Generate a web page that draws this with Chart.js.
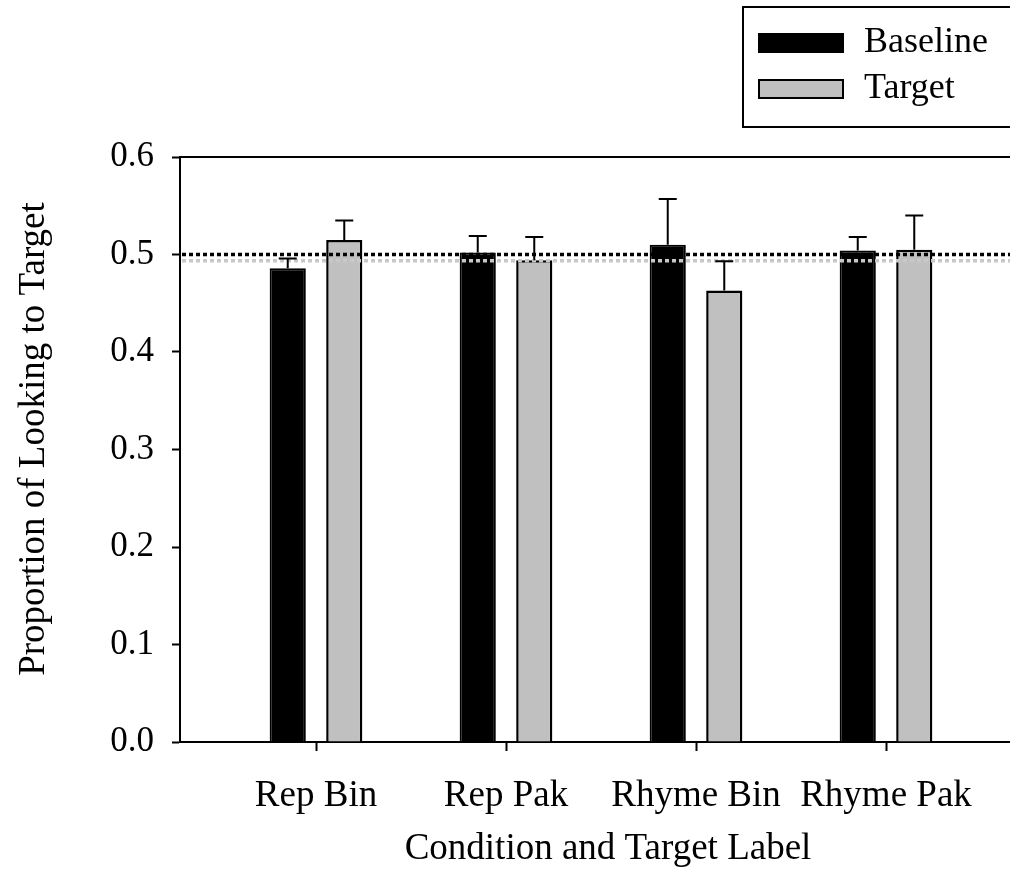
<!DOCTYPE html>
<html>
<head>
<meta charset="utf-8">
<script src="https://cdn.jsdelivr.net/npm/chart.js@4.4.0/dist/chart.umd.min.js"></script>
<style>
  html, body { margin: 0; padding: 0; overflow: hidden; background: #fff; }
  canvas { display: block; }
</style>
</head>
<body>
<canvas id="lookChart" width="1036" height="875"></canvas>
<script>
// datos
const categories = ['Rep Bin', 'Rep Pak', 'Rhyme Bin', 'Rhyme Pak'];
const baseline = [0.486, 0.502, 0.510, 0.504];
const baselineErr = [0.010, 0.017, 0.047, 0.014];
const target = [0.515, 0.494, 0.463, 0.505];
const targetErr = [0.020, 0.024, 0.030, 0.035];
const yTicks = [0, 0.1, 0.2, 0.3, 0.4, 0.5, 0.6];
const chanceLine = 0.5;
const chanceLineGray = 0.4935;

const serif = 'Liberation Serif';

// pasar arrays a puntos {x, y}
function toPoints(values) {
    return values.map((v, i) => ({ x: i, y: v }));
}

// barras de error (solo hacia arriba)
const errorBars = {
    id: 'errorBars',
    afterDatasetsDraw(chart) {
        const ctx = chart.ctx;
        const yScale = chart.scales.y;
        chart.data.datasets.forEach((ds, d) => {
            const meta = chart.getDatasetMeta(d);
            meta.data.forEach((bar, i) => {
                const v = ds.data[i].y;
                const yTop = yScale.getPixelForValue(v);
                const yCap = yScale.getPixelForValue(v + ds.errors[i]);
                ctx.save();
                ctx.strokeStyle = '#000';
                ctx.lineWidth = 2;
                ctx.beginPath();
                ctx.moveTo(bar.x, yTop);
                ctx.lineTo(bar.x, yCap);
                ctx.moveTo(bar.x - 9, yCap);
                ctx.lineTo(bar.x + 9, yCap);
                ctx.stroke();
                ctx.restore();
            });
        });
    }
};

// lineas punteadas de referencia
const refLines = {
    id: 'refLines',
    afterDatasetsDraw(chart) {
        const ctx = chart.ctx;
        const area = chart.chartArea;
        const yScale = chart.scales.y;
        const lines = [[chanceLineGray, '#c8c8c8'], [chanceLine, '#000']];
        lines.forEach(([val, color]) => {
            const y = yScale.getPixelForValue(val);
            ctx.save();
            ctx.strokeStyle = color;
            ctx.lineWidth = 3.5;
            ctx.setLineDash([4, 3]);
            ctx.beginPath();
            ctx.moveTo(area.left + 2, y);
            ctx.lineTo(area.right, y);
            ctx.stroke();
            ctx.restore();
        });
        // borde superior
        const yt = yScale.getPixelForValue(0.6);
        ctx.save();
        ctx.strokeStyle = '#000';
        ctx.lineWidth = 2;
        ctx.beginPath();
        ctx.moveTo(area.left, yt);
        ctx.lineTo(area.right, yt);
        ctx.stroke();
        ctx.restore();
    }
};

// titulo del eje y y leyenda en caja
const extras = {
    id: 'extras',
    afterDraw(chart) {
        const ctx = chart.ctx;
        ctx.save();
        ctx.fillStyle = '#000';
        ctx.font = '37px "' + serif + '"';
        ctx.translate(34, 439);
        ctx.rotate(-Math.PI / 2);
        ctx.textAlign = 'center';
        ctx.textBaseline = 'middle';
        ctx.fillText('Proportion of Looking to Target', 0, 0);
        ctx.restore();

        // leyenda
        ctx.save();
        ctx.strokeStyle = '#000';
        ctx.lineWidth = 2;
        ctx.strokeRect(743, 7, 290, 120);
        const rows = [43, 89];
        chart.data.datasets.forEach((ds, d) => {
            const yc = rows[d];
            ctx.fillStyle = ds.backgroundColor;
            ctx.fillRect(759, yc - 9, 84, 18);
            ctx.lineWidth = 2;
            ctx.strokeStyle = '#000';
            ctx.strokeRect(759, yc - 9, 84, 18);
            ctx.fillStyle = '#000';
            ctx.font = '36px "' + serif + '"';
            ctx.textAlign = 'left';
            ctx.textBaseline = 'middle';
            ctx.fillText(ds.label, 864, yc);
        });
        ctx.restore();
    }
};

const ctx = document.getElementById('lookChart').getContext('2d');
const lookChart = new Chart(ctx, {
    type: 'bar',
    data: {
        datasets: [{
            label: 'Baseline',
            data: toPoints(baseline),
            errors: baselineErr,
            backgroundColor: '#000000',
            borderColor: '#000000',
            borderWidth: 2
        }, {
            label: 'Target',
            data: toPoints(target),
            errors: targetErr,
            backgroundColor: '#c0c0c0',
            borderColor: '#000000',
            borderWidth: 2.5
        }]
    },
    options: {
        responsive: false,
        animation: false,
        categoryPercentage: 0.595,
        barPercentage: 0.64,
        layout: { padding: { top: 157, left: 0, right: 0, bottom: 0 } },
        plugins: {
            legend: { display: false },
            tooltip: { enabled: false }
        },
        scales: {
            x: {
                type: 'linear',
                offset: false,
                min: (180 - 316) / 190,
                max: (1036 - 316) / 190,
                afterFit(scale) { scale.height = 133; },
                border: { color: '#000', width: 2 },
                grid: {
                    offset: false,
                    drawOnChartArea: false,
                    drawTicks: true,
                    tickLength: 9,
                    tickWidth: 2,
                    color: '#000'
                },
                ticks: {
                    stepSize: 1,
                    includeBounds: false,
                    autoSkip: false,
                    maxRotation: 0,
                    padding: 23,
                    color: '#000',
                    font: { family: serif, size: 37 },
                    callback: (v) => categories[v] !== undefined ? categories[v] : ''
                },
                title: {
                    display: true,
                    text: 'Condition and Target Label',
                    color: '#000',
                    font: { family: serif, size: 37 },
                    padding: { top: 0, bottom: 4 }
                }
            },
            y: {
                min: 0,
                max: 0.6,
                afterFit(scale) { scale.width = 180; },
                afterBuildTicks(scale) { scale.ticks = yTicks.map(v => ({ value: v })); },
                border: { color: '#000', width: 2 },
                grid: {
                    drawOnChartArea: false,
                    drawTicks: true,
                    tickLength: 8,
                    tickWidth: 2,
                    color: '#000'
                },
                ticks: {
                    padding: 18,
                    color: '#000',
                    font: { family: serif, size: 35 },
                    callback: (v) => Number(v).toFixed(1)
                }
            }
        }
    },
    plugins: [refLines, errorBars, extras]
});
</script>
</body>
</html>
